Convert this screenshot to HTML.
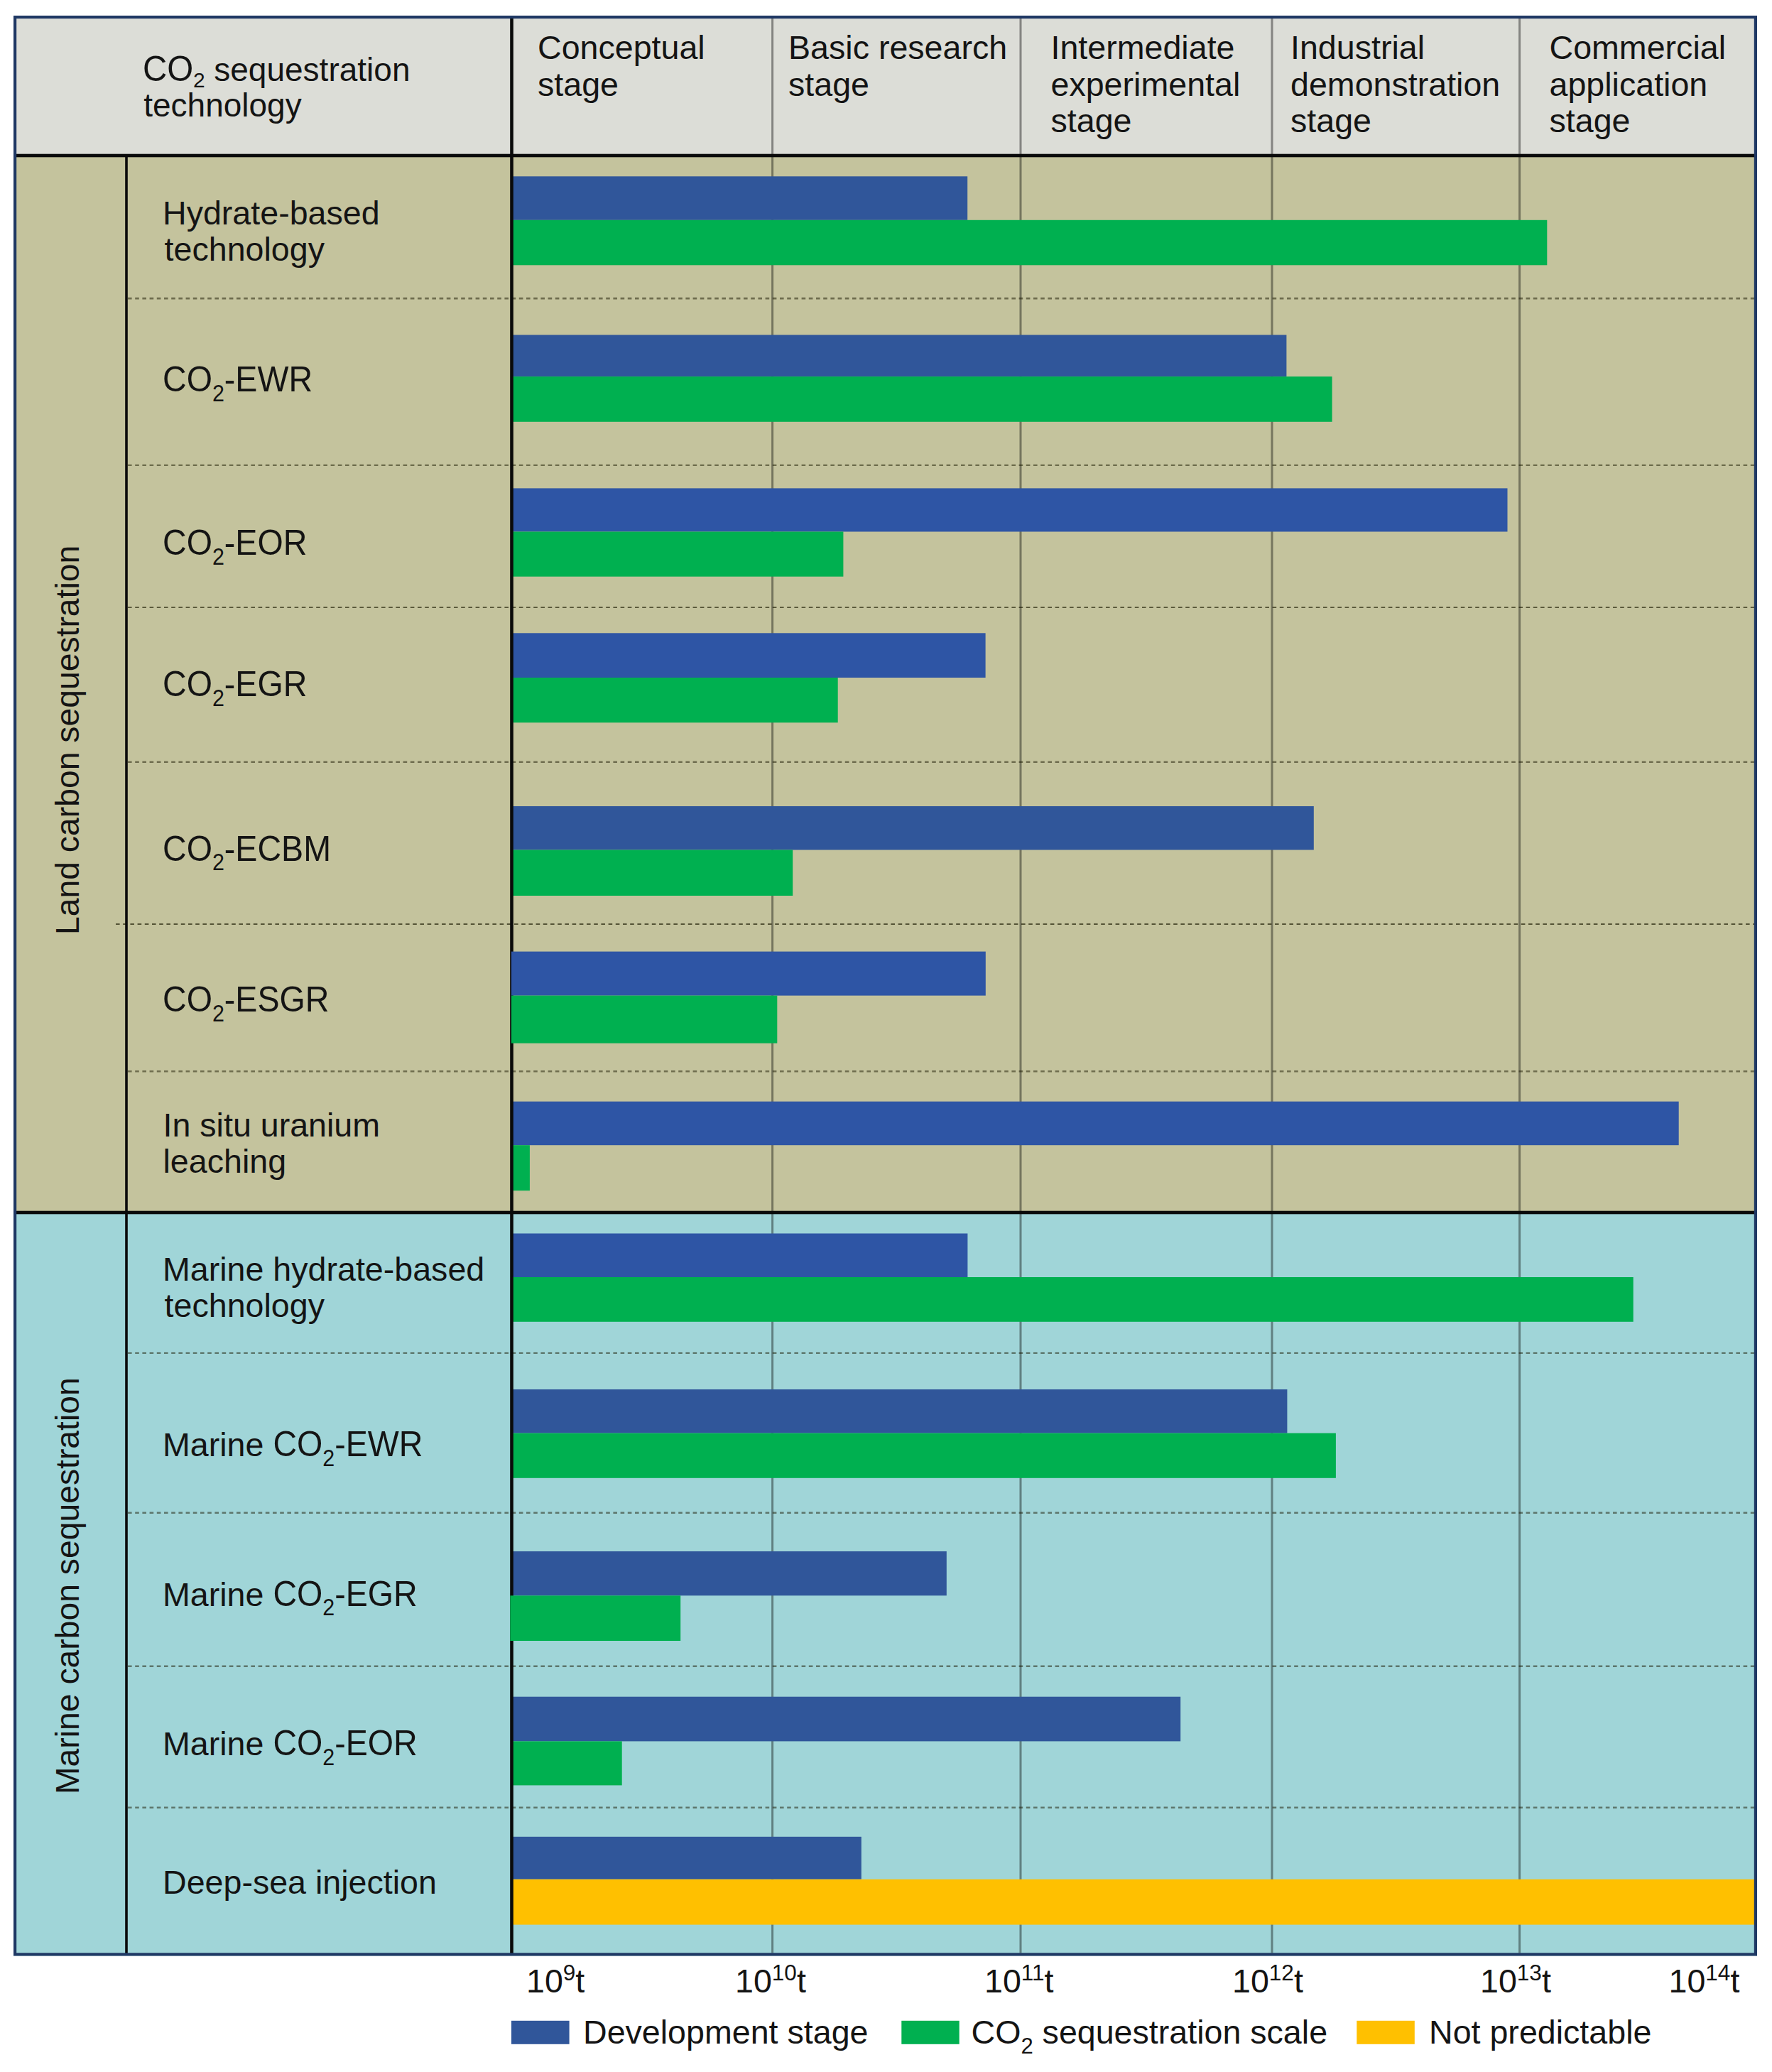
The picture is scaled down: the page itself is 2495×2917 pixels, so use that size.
<!DOCTYPE html>
<html lang="en"><head><meta charset="utf-8"><title>CO2 sequestration technology chart</title>
<style>html,body{margin:0;padding:0;background:#fff}svg{display:block;font-family:"Liberation Sans",Arial,sans-serif;font-size:46.6px;fill:#141414}</style>
</head><body>
<svg width="2495" height="2917" viewBox="0 0 2495 2917">
<rect x="0" y="0" width="2495" height="2917" fill="#ffffff"/>
<rect x="19" y="22" width="2455" height="197" fill="#dcddd7"/>
<rect x="19" y="219" width="2455" height="1488" fill="#c4c39d"/>
<rect x="19" y="1707" width="2455" height="1046.5" fill="#a0d5d8"/>
<rect x="1086.1" y="26" width="3" height="2723.5" fill="#000" fill-opacity="0.4"/>
<rect x="1435.5" y="26" width="3" height="2723.5" fill="#000" fill-opacity="0.4"/>
<rect x="1789.5" y="26" width="3" height="2723.5" fill="#000" fill-opacity="0.4"/>
<rect x="2138.1" y="26" width="3" height="2723.5" fill="#000" fill-opacity="0.4"/>
<line x1="180" y1="420.1" x2="2470" y2="420.1" stroke="#1a1800" stroke-opacity="0.5" stroke-width="2.6" stroke-dasharray="5.6 4.6"/>
<line x1="180" y1="654.9" x2="2470" y2="654.9" stroke="#1a1800" stroke-opacity="0.66" stroke-width="1.9" stroke-dasharray="5.6 4.6"/>
<line x1="180" y1="855.1" x2="2470" y2="855.1" stroke="#1a1800" stroke-opacity="0.66" stroke-width="1.9" stroke-dasharray="5.6 4.6"/>
<line x1="180" y1="1072.8" x2="2470" y2="1072.8" stroke="#1a1800" stroke-opacity="0.5" stroke-width="2.6" stroke-dasharray="5.6 4.6"/>
<line x1="163" y1="1301" x2="2470" y2="1301" stroke="#1a1800" stroke-opacity="0.66" stroke-width="1.9" stroke-dasharray="5.6 4.6"/>
<line x1="180" y1="1508.3" x2="2470" y2="1508.3" stroke="#1a1800" stroke-opacity="0.5" stroke-width="2.6" stroke-dasharray="5.6 4.6"/>
<line x1="180" y1="1904.9" x2="2470" y2="1904.9" stroke="#1a1800" stroke-opacity="0.66" stroke-width="1.9" stroke-dasharray="5.6 4.6"/>
<line x1="180" y1="2129.8" x2="2470" y2="2129.8" stroke="#1a1800" stroke-opacity="0.5" stroke-width="2.6" stroke-dasharray="5.6 4.6"/>
<line x1="180" y1="2345.8" x2="2470" y2="2345.8" stroke="#1a1800" stroke-opacity="0.5" stroke-width="2.6" stroke-dasharray="5.6 4.6"/>
<line x1="180" y1="2544.8" x2="2470" y2="2544.8" stroke="#1a1800" stroke-opacity="0.5" stroke-width="2.6" stroke-dasharray="5.6 4.6"/>
<rect x="720" y="248.3" width="642.2" height="61.5" fill="#30569a"/>
<rect x="720" y="309.8" width="1458.3" height="63.5" fill="#00b050"/>
<rect x="720" y="471.5" width="1091.4" height="58.6" fill="#30569a"/>
<rect x="720" y="530.1" width="1155.6" height="63.7" fill="#00b050"/>
<rect x="720" y="687.4" width="1402.5" height="61.1" fill="#2e55a5"/>
<rect x="720" y="748.5" width="467.4" height="63.2" fill="#00b050"/>
<rect x="720" y="891.3" width="667.6" height="62.7" fill="#2e55a5"/>
<rect x="720" y="954" width="459.7" height="63.3" fill="#00b050"/>
<rect x="720" y="1135" width="1129.8" height="61.5" fill="#30569a"/>
<rect x="720" y="1196.5" width="396.2" height="64.5" fill="#00b050"/>
<rect x="720" y="1550.7" width="1643.7" height="61.5" fill="#2e55a5"/>
<rect x="720" y="1612.2" width="25.9" height="64" fill="#00b050"/>
<rect x="720" y="1736.5" width="642.4" height="61.5" fill="#2e55a5"/>
<rect x="720" y="1798" width="1579.7" height="62.8" fill="#00b050"/>
<rect x="720" y="1956" width="1092.4" height="61.6" fill="#30569a"/>
<rect x="720" y="2017.6" width="1160.9" height="63.2" fill="#00b050"/>
<rect x="720" y="2184" width="612.8" height="62.3" fill="#30569a"/>
<rect x="720" y="2388.7" width="942.2" height="62.7" fill="#30569a"/>
<rect x="720" y="2451.4" width="155.7" height="62" fill="#00b050"/>
<rect x="720" y="2585.8" width="492.8" height="59.9" fill="#30569a"/>
<rect x="720" y="2645.7" width="1750" height="63.9" fill="#ffc000"/>
<rect x="21" y="216.7" width="2451" height="4.6" fill="#0a0a0a"/>
<rect x="21" y="1704.7" width="2451" height="4.6" fill="#0a0a0a"/>
<rect x="176.2" y="219" width="3.6" height="2532.5" fill="#0a0a0a"/>
<rect x="718.2" y="24" width="4.6" height="2727.5" fill="#0a0a0a"/>
<rect x="720" y="1339.6" width="667.8" height="62" fill="#2e55a5"/>
<rect x="720" y="1401.6" width="374.3" height="67.1" fill="#00b050"/>
<rect x="718.3" y="2246.3" width="239.9" height="63.7" fill="#00b050"/>
<rect x="21.1" y="24.1" width="2450.8" height="2727.3" fill="none" stroke="#1f3864" stroke-width="4.2"/>
<text transform="translate(201,114) scale(1.02,1.09)" x="0" y="0">CO</text>
<text x="272" y="123" font-size="30">2</text>
<text x="288.5" y="113.8" font-size="46">&#160;sequestration</text>
<text x="202.2" y="164.3" font-size="46">technology</text>
<text x="757" y="83.3" >Conceptual</text>
<text x="757" y="134.5" >stage</text>
<text x="1110" y="83.3" >Basic research</text>
<text x="1110" y="134.5" >stage</text>
<text x="1479.5" y="83.3" >Intermediate</text>
<text x="1479.5" y="134.5" >experimental</text>
<text x="1479.5" y="185.7" >stage</text>
<text x="1817" y="83.3" >Industrial</text>
<text x="1817" y="134.5" >demonstration</text>
<text x="1817" y="185.7" >stage</text>
<text x="2181.5" y="83.3" >Commercial</text>
<text x="2181.5" y="134.5" >application</text>
<text x="2181.5" y="185.7" >stage</text>
<text x="229" y="315.9" >Hydrate-based</text>
<text x="231.6" y="366.5" >technology</text>
<text transform="translate(229,551.2) scale(1,1.07)" x="0" y="0">CO<tspan dy="13" font-size="30.5">2</tspan><tspan dy="-13">-EWR</tspan></text>
<text transform="translate(229,781.4) scale(1,1.07)" x="0" y="0">CO<tspan dy="13" font-size="30.5">2</tspan><tspan dy="-13">-EOR</tspan></text>
<text transform="translate(229,979.8) scale(1,1.07)" x="0" y="0">CO<tspan dy="13" font-size="30.5">2</tspan><tspan dy="-13">-EGR</tspan></text>
<text transform="translate(229,1211.5) scale(1,1.07)" x="0" y="0">CO<tspan dy="13" font-size="30.5">2</tspan><tspan dy="-13">-ECBM</tspan></text>
<text transform="translate(229,1423.7) scale(1,1.07)" x="0" y="0">CO<tspan dy="13" font-size="30.5">2</tspan><tspan dy="-13">-ESGR</tspan></text>
<text x="229.5" y="1599.5" >In situ uranium</text>
<text x="229.5" y="1650.7" >leaching</text>
<text x="229" y="1802.7" >Marine hydrate-based</text>
<text x="231.6" y="1853.7" >technology</text>
<text x="229" y="2049.8">Marine </text>
<text transform="translate(384.4,2049.8) scale(1,1.07)" x="0" y="0">CO<tspan dy="13" font-size="30.5">2</tspan><tspan dy="-13">-EWR</tspan></text>
<text x="229" y="2260.5">Marine </text>
<text transform="translate(384.4,2260.5) scale(1,1.07)" x="0" y="0">CO<tspan dy="13" font-size="30.5">2</tspan><tspan dy="-13">-EGR</tspan></text>
<text x="229" y="2470.6">Marine </text>
<text transform="translate(384.4,2470.6) scale(1,1.07)" x="0" y="0">CO<tspan dy="13" font-size="30.5">2</tspan><tspan dy="-13">-EOR</tspan></text>
<text x="229" y="2666.1" >Deep-sea injection</text>
<text transform="translate(110.8,1316) rotate(-90)" x="0" y="0" font-size="46.3">Land carbon sequestration</text>
<text transform="translate(110.8,2526) rotate(-90)" x="0" y="0" font-size="46.3">Marine carbon sequestration</text>
<text x="741" y="2805">10<tspan dy="-17" font-size="31.5">9</tspan><tspan dy="17">t</tspan></text>
<text x="1035" y="2805">10<tspan dy="-17" font-size="31.5">10</tspan><tspan dy="17">t</tspan></text>
<text x="1386" y="2805">10<tspan dy="-17" font-size="31.5">11</tspan><tspan dy="17">t</tspan></text>
<text x="1735" y="2805">10<tspan dy="-17" font-size="31.5">12</tspan><tspan dy="17">t</tspan></text>
<text x="2084" y="2805">10<tspan dy="-17" font-size="31.5">13</tspan><tspan dy="17">t</tspan></text>
<text x="2349.5" y="2805">10<tspan dy="-17" font-size="31.5">14</tspan><tspan dy="17">t</tspan></text>
<rect x="720" y="2844.8" width="81.6" height="33" fill="#30569a"/>
<text x="821" y="2877.3" >Development stage</text>
<rect x="1269.3" y="2844.8" width="81.4" height="33" fill="#00b050"/>
<text x="1367.5" y="2877.3">CO<tspan dy="14" font-size="31">2</tspan><tspan dy="-14"> sequestration scale</tspan></text>
<rect x="1910.3" y="2844.8" width="81.5" height="33" fill="#ffc000"/>
<text x="2012" y="2877.3" >Not predictable</text>
</svg></body></html>
